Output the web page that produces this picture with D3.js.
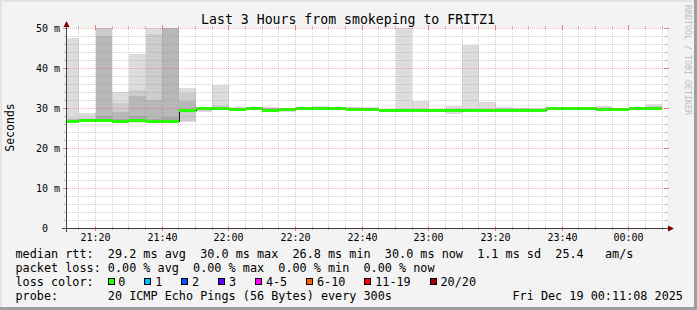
<!DOCTYPE html>
<html><head><meta charset="utf-8">
<script src="https://cdn.jsdelivr.net/npm/d3@7"></script>
<style>
html,body{margin:0;padding:0;background:#f3f3f3;}
svg{display:block;}
text{font-family:"DejaVu Sans Mono",monospace;white-space:pre;}
</style>
</head><body>
<svg id="chart" width="697" height="310"></svg>
<script>
// ---------- data ----------
const times = ["21:10","21:15","21:20","21:25","21:30","21:35","21:40","21:45","21:50","21:55",
  "22:00","22:05","22:10","22:15","22:20","22:25","22:30","22:35","22:40","22:45",
  "22:50","22:55","23:00","23:05","23:10","23:15","23:20","23:25","23:30","23:35",
  "23:40","23:45","23:50","23:55","00:00","00:05"];
const median = [26.7,26.9,27.0,26.8,27.0,26.8,26.8,29.6,29.9,30.0,
  29.7,29.9,29.6,29.8,29.9,30.0,29.95,29.7,29.7,29.4,
  29.4,29.4,29.4,29.5,29.45,29.45,29.5,29.5,29.6,29.9,
  29.95,29.95,29.7,29.7,29.9,30.0];
const outerLo = [26.3,26.7,26.7,26.2,26.3,26.4,26.5,26.6,29.1,29.6,29.4,29.6,29.4,29.1,29.7,29.8,29.8,29.3,29.5,29.2,29.2,29.2,29.2,28.6,29.2,29.2,29.3,29.3,29.0,29.7,29.8,29.8,29.5,29.5,29.7,29.8];
const outerHi = [47.6,28.7,60,34.0,43.5,60,60,35.0,30.3,35.7,30.3,30.2,30.2,30.0,30.3,30.4,30.3,30.3,30.2,29.6,60,31.7,29.7,30.6,45.8,31.5,30.2,30.1,29.9,30.3,30.2,30.2,30.4,30.0,30.2,31.0];
const midLo = [26.5,26.8,26.8,26.4,26.5,26.5,26.6,26.8,29.3,29.8,29.5,29.7,29.5,29.4,29.8,29.9,29.9,29.4,29.6,29.3,29.3,29.3,29.3,29.3,29.3,29.3,29.4,29.4,29.2,29.8,29.9,29.9,29.6,29.6,29.8,29.9];
const midHi = [27.6,27.5,55,31.2,34.6,48.4,60,33.7,30.2,30.7,30.0,30.1,30.1,29.9,30.1,30.2,30.2,30.2,30.0,29.5,29.7,29.8,29.6,29.8,29.8,29.8,30.0,29.9,29.8,30.1,30.1,30.1,30.2,29.9,30.1,30.4];
const innerLo = [26.6,26.9,26.9,26.6,26.7,26.6,26.6,29.2,29.6,29.9,29.6,29.8,29.5,29.7,29.8,29.9,29.9,29.5,29.6,29.3,29.3,29.3,29.3,29.4,29.4,29.4,29.4,29.4,29.4,29.8,29.9,29.9,29.6,29.6,29.8,29.9];
const innerHi = [27.3,27.2,48.0,29.0,32.9,32.1,55,31.7,30.1,30.3,29.9,30.0,30.0,29.9,30.0,30.1,30.1,30.0,29.9,29.5,29.5,29.6,29.5,29.7,29.6,29.6,29.7,29.7,29.7,30.0,30.0,30.0,29.9,29.8,30.0,30.1];
const coreLo = [26.6,26.9,26.9,26.7,26.9,26.7,26.7,29.4,29.8,29.9,29.6,29.8,29.5,29.7,29.9,29.9,29.9,29.6,29.6,29.4,29.4,29.4,29.4,29.4,29.4,29.4,29.4,29.4,29.5,29.9,29.9,29.9,29.6,29.6,29.9,29.9];
const coreHi = [26.9,27.1,28.1,27.2,28.0,27.2,27.8,29.8,30.0,30.1,29.8,30.0,29.7,29.9,30.0,30.1,30.0,29.8,29.8,29.5,29.5,29.5,29.5,29.6,29.5,29.5,29.6,29.6,29.7,30.0,30.0,30.0,29.8,29.8,30.0,30.1];
const yTickValues = [0,10,20,30,40,50];
const yTickLabels = ["0  ","10 m","20 m","30 m","40 m","50 m"];
const xTickLabels = ["21:20","21:40","22:00","22:20","22:40","23:00","23:20","23:40","00:00"];
const lossLabels = ["0","1","2","3","4-5","6-10","11-19","20/20"];
const lossColors = ["#26ff00","#00b8ff","#0059ff","#5e00ff","#ff00ff","#ff5e00","#ff0000","#a10000"];
const smokeColors = ["#dddddd","#cccccc","#b8b8b8","#a8a8a8"];
const title = "Last 3 Hours from smokeping to FRITZ1";
const legendLines = [
  "median rtt:  29.2 ms avg  30.0 ms max  26.8 ms min  30.0 ms now  1.1 ms sd  25.4   am/s",
  "packet loss: 0.00 % avg  0.00 % max  0.00 % min  0.00 % now",
  "loss color:",
  "probe:       20 ICMP Echo Pings (56 Bytes) every 300s"
];
const stamp = "Fri Dec 19 00:11:08 2025";

// ---------- helpers ----------
function toDate(hm){
  const [h,m] = hm.split(":").map(Number);
  return new Date(2025, 11, h < 12 ? 19 : 18, h, m, 0);
}
const svg = d3.select("#chart");
const W = 697, H = 310;
const X0 = 66, X1 = 666, Y0 = 228, Y1 = 28;

const x = d3.scaleTime()
  .domain([new Date(2025,11,18,21,11,8), new Date(2025,11,19,0,11,8)])
  .range([X0, X1]);
const y = d3.scaleLinear().domain([0,50]).range([Y0, Y1]);

// background + frame
svg.append("rect").attr("width",W).attr("height",H).attr("fill","#f3f3f3");
svg.append("rect").attr("x",0).attr("y",0).attr("width",W).attr("height",2).attr("fill","#e4e4e4");
svg.append("rect").attr("x",0).attr("y",0).attr("width",2).attr("height",H).attr("fill","#e4e4e4");
svg.append("rect").attr("x",W-3).attr("y",0).attr("width",3).attr("height",H).attr("fill","#9e9e9e");
svg.append("rect").attr("x",0).attr("y",H-3).attr("width",W).attr("height",3).attr("fill","#9e9e9e");

// canvas
svg.append("rect").attr("x",X0).attr("y",Y1).attr("width",X1-X0+1).attr("height",Y0-Y1).attr("fill","#ffffff");

svg.append("clipPath").attr("id","plotclip").append("rect")
  .attr("x",X0+1).attr("y",Y1).attr("width",X1-X0).attr("height",Y0-Y1);

const plot = svg.append("g").attr("clip-path","url(#plotclip)");

const starts = times.map(toDate);
const ends = starts.map(d => d3.timeMinute.offset(d, 5));
const px = v => Math.round(x(v));
const layers = [[outerLo,outerHi],[midLo,midHi],[innerLo,innerHi],[coreLo,coreHi]];

layers.forEach(([lo,hi], li) => {
  plot.append("g").attr("shape-rendering","crispEdges")
    .selectAll("rect").data(d3.range(times.length)).join("rect")
    .attr("x", i => px(starts[i]))
    .attr("width", i => px(ends[i]) - px(starts[i]))
    .attr("y", i => Math.round(y(hi[i])))
    .attr("height", i => Math.max(1, Math.round(y(lo[i])) - Math.round(y(hi[i]))))
    .attr("fill", smokeColors[li]);
});

// grid
const minorCol = "rgba(140,140,140,0.38)", majorCol = "rgba(222,80,80,0.42)";
const grid = svg.append("g").attr("shape-rendering","crispEdges");
const minorX = d3.timeMinute.every(5).range(x.domain()[0], x.domain()[1]);
minorX.forEach(t => {
  const major = t.getMinutes() % 20 === 0;
  const gx = Math.floor(x(t)) + 0.5;
  grid.append("line").attr("x1",gx).attr("x2",gx).attr("y1",Y1).attr("y2",Y0)
    .attr("stroke", major ? majorCol : minorCol)
    .attr("stroke-dasharray","1,1");
  const tk = major ? 2 : 1;
  grid.append("line").attr("x1",gx).attr("x2",gx).attr("y1",Y0-tk).attr("y2",Y0+tk+1)
    .attr("stroke", major ? "#e08080" : "#bbbbbb");
  grid.append("line").attr("x1",gx).attr("x2",gx).attr("y1",Y1-tk-1).attr("y2",Y1+tk)
    .attr("stroke", major ? "#e08080" : "#bbbbbb");
});
d3.range(2, 51, 2).forEach(v => {
  const major = v % 10 === 0;
  const gy = Math.round(y(v)) + 0.5;
  grid.append("line").attr("x1",X0).attr("x2",X1+1).attr("y1",gy).attr("y2",gy)
    .attr("stroke", major ? majorCol : minorCol)
    .attr("stroke-dasharray","1,1");
  const tk = major ? 2 : 1;
  grid.append("line").attr("x1",X0-tk-1).attr("x2",X0+tk).attr("y1",gy).attr("y2",gy)
    .attr("stroke", major ? "#e08080" : "#bbbbbb");
  grid.append("line").attr("x1",X1-tk).attr("x2",X1+tk+1).attr("y1",gy).attr("y2",gy)
    .attr("stroke", major ? "#e08080" : "#bbbbbb");
});

// median black step line
const medPts = median.map((m,i) => [starts[i], m]);
medPts.push([ends[ends.length-1], median[median.length-1]]);
plot.append("path")
  .attr("d", d3.line().x(d => px(d[0])).y(d => Math.round(y(d[1])) + 0.5).curve(d3.curveStepAfter)(medPts))
  .attr("fill","none").attr("stroke","#202020").attr("stroke-width",1)
  .attr("shape-rendering","crispEdges");

// green median bands (loss 0)
plot.append("g").attr("shape-rendering","crispEdges")
  .selectAll("rect").data(d3.range(median.length)).join("rect")
  .attr("x", i => px(starts[i]))
  .attr("width", i => px(ends[i]) - px(starts[i]))
  .attr("y", i => Math.round(y(median[i])) - 1)
  .attr("height", 3)
  .attr("fill", lossColors[0]);

// axes
const axisCol = "#404040";
svg.append("line").attr("x1",X0-4).attr("x2",X1+3).attr("y1",Y0+0.5).attr("y2",Y0+0.5)
  .attr("stroke",axisCol).attr("shape-rendering","crispEdges");
svg.append("line").attr("x1",X0+0.5).attr("x2",X0+0.5).attr("y1",Y0+4).attr("y2",Y1-2)
  .attr("stroke",axisCol).attr("shape-rendering","crispEdges");
svg.append("path").attr("d",`M${X1+8},${Y0+0.5} L${X1+2},${Y0-2.5} L${X1+2},${Y0+3.5} Z`).attr("fill","#7f0000");
svg.append("path").attr("d",`M${X0+0.5},${Y1-7} L${X0-2.5},${Y1-1} L${X0+3.5},${Y1-1} Z`).attr("fill","#7f0000");

// y tick labels
svg.append("g").selectAll("text").data(yTickValues).join("text")
  .attr("x", 60).attr("y", v => y(v) + 3.8)
  .attr("text-anchor","end").attr("font-size","10px").attr("fill","#000")
  .text((v,i) => yTickLabels[i]);

// x tick labels
const majorX = d3.timeMinute.every(20).range(x.domain()[0], x.domain()[1]);
svg.append("g").selectAll("text").data(majorX).join("text")
  .attr("x", t => Math.floor(x(t)) + 0.5).attr("y", 241)
  .attr("text-anchor","middle").attr("font-size","10px").attr("fill","#000")
  .text((t,i) => xTickLabels[i]);

// title
svg.append("text").attr("x",348).attr("y",23.5).attr("text-anchor","middle")
  .attr("font-size","13.2px").attr("fill","#000").text(title);

// y label
svg.append("text").attr("transform","translate(14,127.5) rotate(-90)")
  .attr("text-anchor","middle").attr("font-size","11.5px").attr("fill","#000").text("Seconds");

// watermark
svg.append("text").attr("transform","translate(684.5,5) rotate(90)")
  .attr("font-size","8.3px").attr("fill","#bdbdbd").text("RRDTOOL / TOBI OETIKER");

// legend
const LX = 15.5, CW = 7.1;
const baselines = [258, 272, 286, 300];
legendLines.forEach((s,i) => {
  svg.append("text").attr("x",LX).attr("y",baselines[i]).attr("font-size","11.8px")
    .attr("fill","#000").text(s);
});
let bx = LX + 13*CW - 0.3;
lossLabels.forEach((lab,i) => {
  svg.append("rect").attr("x", Math.round(bx)+0.5).attr("y",278.5).attr("width",6).attr("height",6)
    .attr("fill",lossColors[i]).attr("stroke","#000").attr("stroke-width",1)
    .attr("shape-rendering","crispEdges");
  svg.append("text").attr("x", bx + 10.8).attr("y", 286).attr("font-size","11.8px")
    .attr("fill","#000").text(lab);
  bx += 29.8 + lab.length*CW;
});
svg.append("text").attr("x",512.5).attr("y",300).attr("font-size","11.8px").attr("fill","#000").text(stamp);
</script>
</body></html>
